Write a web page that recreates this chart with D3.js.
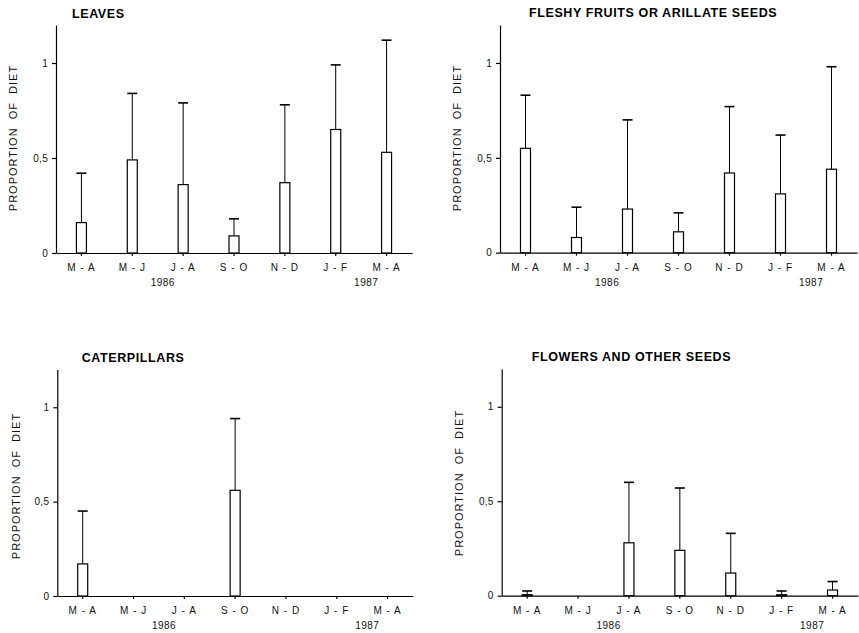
<!DOCTYPE html>
<meta charset="utf-8">
<title>Proportion of diet</title>
<style>
  body { margin: 0; background: #fff; }
  svg { display: block; font-family: "Liberation Sans", Arial, sans-serif; }
  .tick text { font-size: 10px; letter-spacing: 1px; fill: #111; }
  .title { font-size: 12.5px; font-weight: bold; letter-spacing: 0.6px; fill: #000; }
  .ylab { font-size: 11px; letter-spacing: 1px; fill: #111; white-space: pre; }
  .year { font-size: 10px; letter-spacing: 0.5px; fill: #111; }
</style>
<body>
<script src="https://d3js.org/d3.v7.min.js"></script>
<script>

const periods = ["M - A", "M - J", "J - A", "S - O", "N - D", "J - F", "M - A"];
const years = ["1986", "1987"];
const yTicks = [0, 0.5, 1];

// mean proportion and standard deviation per two-month period
const leavesMean = [0.16, 0.49, 0.36, 0.09, 0.37, 0.65, 0.53];
const leavesSd   = [0.26, 0.35, 0.43, 0.09, 0.41, 0.34, 0.59];

const fruitsMean = [0.55, 0.08, 0.23, 0.11, 0.42, 0.31, 0.44];
const fruitsSd   = [0.28, 0.16, 0.47, 0.10, 0.35, 0.31, 0.54];

const caterpillarsMean = [0.17, 0, 0, 0.56, 0, 0, 0];
const caterpillarsSd   = [0.28, 0, 0, 0.38, 0, 0, 0];

const flowersMean = [0.005, 0, 0.28, 0.24, 0.12, 0.005, 0.03];
const flowersSd   = [0.02, 0, 0.32, 0.33, 0.21, 0.02, 0.045];

const W = 859, H = 633;
const svg = d3.select("body").append("svg").attr("width", W).attr("height", H);

const panels = [
  {title: "LEAVES", mean: leavesMean, sd: leavesSd,
   ax: 56, zero: 253, top: 25, right: 412, tx: 72, ty: 18.3, lx: 13, ly: 138},
  {title: "FLESHY FRUITS OR ARILLATE SEEDS", mean: fruitsMean, sd: fruitsSd,
   ax: 500, zero: 252.7, top: 25, right: 857, tx: 529, ty: 16.7, lx: 457, ly: 138},
  {title: "CATERPILLARS", mean: caterpillarsMean, sd: caterpillarsSd,
   ax: 57.3, zero: 596, top: 369.5, right: 413, tx: 81.7, ty: 361.7, lx: 16, ly: 486},
  {title: "FLOWERS AND OTHER SEEDS", mean: flowersMean, sd: flowersSd,
   ax: 501.7, zero: 595.7, top: 369, right: 858, tx: 531.7, ty: 361, lx: 459, ly: 483}
];

const fmt = d => d === 0.5 ? "0,5" : String(d);

panels.forEach(p => {
  const g = svg.append("g");
  const y = d3.scaleLinear().domain([0, 1.2]).range([p.zero, p.top]);
  const x = d3.scaleBand().domain(d3.range(periods.length)).range([p.ax, p.right]);
  const cx = i => x(i) + x.bandwidth() / 2;
  const bw = 10;

  g.append("g")
    .attr("transform", `translate(${p.ax},0)`)
    .call(d3.axisLeft(y).tickValues(yTicks).tickFormat(fmt).tickSize(4).tickSizeOuter(0).tickPadding(4))
    .call(a => a.selectAll("text").style("letter-spacing", "0.3px"));

  g.append("g")
    .attr("transform", `translate(0,${p.zero})`)
    .call(d3.axisBottom(x).tickFormat(i => periods[i]).tickSize(3).tickSizeOuter(0).tickPadding(8));

  g.selectAll(".domain, .tick line").attr("stroke", "#000").attr("stroke-width", 1.2);

  // error bars
  const idx = d3.range(periods.length).filter(i => p.sd[i] > 0);
  g.selectAll(".err").data(idx).join("line")
    .attr("x1", cx).attr("x2", cx)
    .attr("y1", i => y(p.mean[i])).attr("y2", i => y(p.mean[i] + p.sd[i]))
    .attr("stroke", "#000").attr("stroke-width", 1);
  g.selectAll(".cap").data(idx).join("line")
    .attr("x1", i => cx(i) - bw / 2).attr("x2", i => cx(i) + bw / 2)
    .attr("y1", i => y(p.mean[i] + p.sd[i])).attr("y2", i => y(p.mean[i] + p.sd[i]))
    .attr("stroke", "#000").attr("stroke-width", 1.6);

  // bars
  g.selectAll(".bar").data(d3.range(periods.length).filter(i => p.mean[i] > 0)).join("rect")
    .attr("x", i => cx(i) - bw / 2).attr("width", bw)
    .attr("y", i => y(p.mean[i])).attr("height", i => y(0) - y(p.mean[i]))
    .attr("fill", "#fff").attr("stroke", "#000").attr("stroke-width", 1.2);

  // years under the axis
  g.selectAll(".year").data([1, 5]).join("text")
    .attr("class", "year")
    .attr("x", i => cx(i) + x.step() * 0.6)
    .attr("y", p.zero + 33)
    .attr("text-anchor", "middle")
    .text((d, k) => years[k]);

  g.append("text").attr("class", "title")
    .attr("x", p.tx).attr("y", p.ty).text(p.title);

  g.append("text").attr("class", "ylab")
    .attr("transform", `translate(${p.lx},${p.ly}) rotate(-90)`)
    .attr("text-anchor", "middle").attr("dy", "0.35em")
    .text("PROPORTION  OF  DIET");
});
</script>
